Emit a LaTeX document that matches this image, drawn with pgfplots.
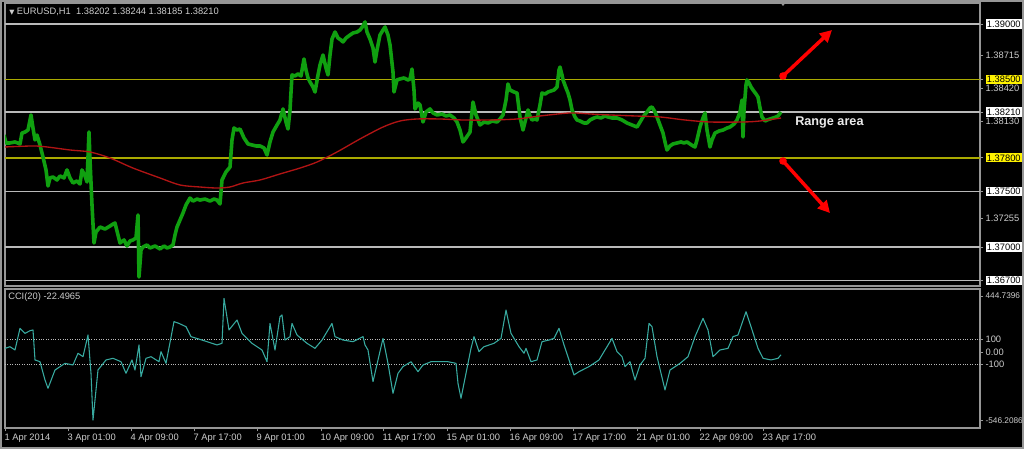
\documentclass[border=0pt]{standalone}
\usepackage{pgfplots}
\pgfplotsset{compat=1.18}
\usepackage{fontspec}
\setmainfont{Liberation Sans}
\newfontfamily\dejavu{DejaVu Sans}
\usetikzlibrary{arrows.meta}

\definecolor{bargreen}{RGB}{16,160,16}
\definecolor{mared}{RGB}{176,20,20}
\definecolor{lvlyellow}{RGB}{170,170,0}
\definecolor{lvlgrey}{RGB}{185,185,185}
\definecolor{framegrey}{RGB}{150,150,150}
\definecolor{lbl}{RGB}{205,205,205}
\definecolor{cci}{RGB}{56,170,160}

\newcommand\sm{\fontsize{7}{8}\selectfont}
\newcommand\smr{\fontsize{6.2}{7}\selectfont}
\newcommand\wbox[1]{{\setlength\fboxsep{1pt}\colorbox{white}{\textcolor{black}{#1}}}}
\newcommand\ybox[1]{{\setlength\fboxsep{1pt}\colorbox{yellow}{\textcolor{black}{#1}}}}

\pgfplotsset{
  mt4/.style={
    scale only axis, anchor=south west,
    width=731.25pt, xmin=5, xmax=980,
    axis line style={draw=framegrey, line width=0.9pt},
    tick style={draw=framegrey, line width=0.6pt},
    tick align=outside, major tick length=2.5pt,
    ytick pos=right, yticklabel pos=right,
    yticklabel style={anchor=west, inner sep=0pt, xshift=1.5pt, font=\sm, text=lbl},
  },
}

% EURUSD H1, price path
\pgfplotstableread{
x p
4 1.38004
6 1.37933
10 1.37933
15 1.37942
20 1.37924
22 1.38022
25 1.38031
28 1.38049
31 1.38184
33 1.38067
35 1.37960
37 1.38004
40 1.37915
43 1.37807
46 1.37691
48 1.37547
50 1.37619
53 1.37628
57 1.37601
60 1.37637
64 1.37619
67 1.37691
70 1.37619
73 1.37574
77 1.37592
80 1.37565
82 1.37691
85 1.37637
87 1.37583
89 1.38031
90 1.37780
92 1.37377
94 1.37036
96 1.37134
100 1.37179
105 1.37161
110 1.37188
113 1.37206
115 1.37215
118 1.37108
120 1.37036
124 1.37063
127 1.37009
130 1.37054
133 1.37063
136 1.37081
138 1.37287
139 1.36731
141 1.36973
143 1.37000
147 1.37018
150 1.36991
155 1.37009
160 1.36982
164 1.37009
167 1.36991
170 1.37000
173 1.37018
175 1.37108
177 1.37179
180 1.37242
183 1.37305
186 1.37377
190 1.37439
193 1.37412
197 1.37430
200 1.37421
205 1.37430
210 1.37412
214 1.37430
217 1.37421
220 1.37386
222 1.37601
226 1.37673
230 1.37717
232 1.37960
234 1.38067
237 1.38049
240 1.38058
244 1.37978
248 1.37924
252 1.37915
256 1.37906
260 1.37906
264 1.37888
267 1.37825
270 1.37942
273 1.38031
277 1.38094
280 1.38139
283 1.38238
286 1.38121
288 1.38058
290 1.38229
292 1.38543
295 1.38534
298 1.38552
301 1.38534
304 1.38686
306 1.38587
308 1.38516
310 1.38480
313 1.38435
315 1.38390
318 1.38543
320 1.38632
323 1.38722
326 1.38605
328 1.38543
330 1.38722
332 1.38865
335 1.38928
338 1.38874
341 1.38856
343 1.38839
346 1.38874
350 1.38901
353 1.38919
357 1.38928
360 1.38946
363 1.38982
365 1.39018
367 1.38928
370 1.38865
373 1.38785
375 1.38659
377 1.38767
380 1.38901
383 1.38946
385 1.38973
388 1.38901
390 1.38812
393 1.38569
394 1.38390
397 1.38498
400 1.38507
404 1.38516
408 1.38498
410 1.38507
412 1.38596
414 1.38408
415 1.38238
418 1.38291
420 1.38274
423 1.38121
426 1.38211
430 1.38238
433 1.38202
437 1.38184
442 1.38193
446 1.38175
450 1.38184
454 1.38157
457 1.38121
460 1.38049
463 1.37942
466 1.37978
470 1.38031
473 1.38300
476 1.38184
480 1.38094
484 1.38121
488 1.38112
492 1.38130
497 1.38121
500 1.38148
503 1.38184
506 1.38318
508 1.38462
510 1.38408
514 1.38390
517 1.38381
520 1.38166
523 1.38049
526 1.38157
528 1.38229
530 1.38175
532 1.38139
535 1.38148
537 1.38139
540 1.38274
542 1.38381
545 1.38372
548 1.38390
551 1.38399
554 1.38408
557 1.38435
559 1.38587
560 1.38614
562 1.38543
563 1.38498
566 1.38426
568 1.38381
570 1.38318
572 1.38229
575 1.38166
577 1.38139
580 1.38130
584 1.38112
587 1.38112
590 1.38139
594 1.38157
597 1.38166
601 1.38157
605 1.38175
608 1.38166
612 1.38157
617 1.38157
622 1.38139
627 1.38112
632 1.38094
637 1.38076
640 1.38121
643 1.38166
647 1.38211
650 1.38247
652 1.38256
655 1.38211
657 1.38166
660 1.38094
663 1.38022
665 1.37942
667 1.37870
670 1.37906
673 1.37924
677 1.37933
681 1.37942
684 1.37933
687 1.37942
690 1.37924
693 1.37906
695 1.37897
697 1.37960
700 1.38076
703 1.38157
705 1.38202
707 1.38049
710 1.37897
712 1.37960
715 1.38022
719 1.38040
723 1.38049
727 1.38067
730 1.38076
734 1.38103
737 1.38139
740 1.38211
742 1.38318
743 1.37987
744 1.38229
746 1.38453
747 1.38498
749 1.38471
751 1.38435
753 1.38408
756 1.38372
758 1.38345
760 1.38247
762 1.38166
765 1.38130
767 1.38139
770 1.38148
773 1.38157
776 1.38166
778 1.38175
781 1.38210
}\price

\pgfplotstableread{
x p
5 1.37897
33 1.37906
47 1.37897
70 1.37870
90 1.37852
110 1.37798
133 1.37708
160 1.37619
180 1.37556
200 1.37538
217 1.37529
230 1.37538
243 1.37574
260 1.37601
280 1.37655
300 1.37708
317 1.37762
337 1.37852
360 1.37969
383 1.38076
400 1.38130
417 1.38148
440 1.38148
463 1.38139
490 1.38139
517 1.38148
540 1.38175
570 1.38202
590 1.38193
610 1.38184
635 1.38175
660 1.38166
685 1.38139
710 1.38121
743 1.38121
760 1.38130
781 1.38157
}\ma

\pgfplotstableread{
x v
5 29
10 42
15 16
20 188
25 148
30 169
33 175
35 -63
40 -77
45 -222
48 -288
55 -143
65 -90
73 -103
78 -10
83 -37
88 135
91 -169
93 -540
98 -143
106 -63
113 -50
121 -77
126 -169
132 -63
135 -143
139 56
141 -196
146 -50
151 -37
159 -77
161 3
166 -90
174 241
179 227
186 201
191 122
202 95
212 69
217 56
222 69
224 426
229 175
237 254
242 148
252 69
262 16
267 -77
270 227
275 16
280 280
282 294
285 95
290 122
292 227
297 135
307 69
315 29
322 95
332 227
335 122
343 95
353 82
363 122
365 56
368 16
373 -235
378 -63
383 108
388 -90
393 -328
398 -169
403 -116
411 -77
418 -156
423 -103
431 -77
438 -77
448 -77
456 -90
458 -249
461 -367
466 -169
471 29
474 122
479 3
484 42
494 69
501 108
506 333
511 148
519 42
524 -10
526 29
531 -77
537 -63
542 82
549 95
554 108
559 188
564 56
569 -63
574 -182
579 -156
589 -116
599 -63
607 42
612 108
617 3
622 -37
625 -116
630 -77
635 -222
640 -103
645 -50
649 227
652 201
657 -37
665 -301
670 -143
680 -90
688 -37
695 122
703 267
708 175
713 -37
720 16
728 29
733 122
738 135
746 320
751 201
758 29
763 -50
771 -63
778 -50
781 -22
}\cciv

\begin{document}
\begin{tikzpicture}
\fill[black] (0,0) rectangle (768pt,336.75pt);
\path[use as bounding box] (0,0) rectangle (768pt,336.75pt);

% price window
\begin{axis}[mt4, at={(3.75pt,122.25pt)}, height=212.25pt,
  ymin=1.366502, ymax=1.391883,
  xtick=\empty,
  ytick={1.38715,1.3842,1.3813,1.37255,1.39,1.385,1.3821,1.378,1.375,1.37,1.367},
  yticklabels={1.38715,1.38420,1.38130,1.37255,\wbox{1.39000},\ybox{1.38500},\wbox{1.38210},\ybox{1.37800},\wbox{1.37500},\wbox{1.37000},\wbox{1.36700}},
]
\addplot[lvlgrey, line width=1.1pt] coordinates {(5,1.39) (980,1.39)};
\addplot[lvlgrey, line width=1.1pt] coordinates {(5,1.3821) (980,1.3821)};
\addplot[lvlgrey, line width=1.1pt] coordinates {(5,1.375) (980,1.375)};
\addplot[lvlgrey, line width=1.1pt] coordinates {(5,1.37) (980,1.37)};
\addplot[lvlgrey, line width=1.1pt] coordinates {(5,1.367) (980,1.367)};
\addplot[lvlyellow, line width=1.1pt] coordinates {(5,1.385) (980,1.385)};
\addplot[lvlyellow, line width=1.1pt] coordinates {(5,1.378) (980,1.378)};
\addplot[bargreen, line width=2.7pt, line join=round] table[x=x, y=p] {\price};
\addplot[mared, line width=1pt, smooth] table[x=x, y=p] {\ma};
\end{axis}

% CCI window
\begin{axis}[mt4, at={(3.75pt,15.75pt)}, height=104.25pt,
  ymin=-603, ymax=500,
  xtick={5,68,131,194,257,321,383,447,510,573,637,700,763},
  xticklabels={1 Apr 2014,3 Apr 01:00,4 Apr 09:00,7 Apr 17:00,9 Apr 01:00,10 Apr 09:00,11 Apr 17:00,15 Apr 01:00,16 Apr 09:00,17 Apr 17:00,21 Apr 01:00,22 Apr 09:00,23 Apr 17:00},
  xtick pos=bottom,
  xticklabel style={anchor=north west, inner sep=0pt, yshift=-1.5pt, xshift=-0.5pt, font=\sm, text=lbl},
  ytick={444.7396,100,0,-100,-546.2086},
  yticklabels={{\smr 444.7396},100,0.00,-100,{\smr -546.2086}},
]
\addplot[lvlgrey, densely dotted, line width=0.8pt] coordinates {(5,100) (980,100)};
\addplot[lvlgrey, densely dotted, line width=0.8pt] coordinates {(5,-100) (980,-100)};
\addplot[cci, line width=0.8pt, line join=round] table[x=x, y=v] {\cciv};
\end{axis}

% annotations in pixel units of the screenshot
\begin{scope}[x=0.75pt, y=-0.75pt, shift={(0pt,336.75pt)}]
\draw[framegrey, line width=1.5pt] (1,1) rectangle (1023,448);
\fill[framegrey] (779,1) -- (787,1) -- (783,6) -- cycle;
\node[anchor=west, inner sep=0pt, text=lbl, font=\sm] at (9,12)
  {{\dejavu\fontsize{5}{6}\selectfont ▼}\ EURUSD,H1\ \ 1.38202 1.38244 1.38185 1.38210};
\node[anchor=west, inner sep=0pt, text=lbl, font=\sm] at (8,297) {CCI(20) -22.4965};
\node[anchor=west, inner sep=0pt, text=white!92!black, font=\fontsize{9.5}{11}\selectfont\bfseries] at (795,122) {Range area};
\draw[red, line width=2.6pt, -{Triangle[length=9pt,width=9pt]}] (783,76) -- (832,30);
\fill[red] (783,76) circle (3.8);
\draw[red, line width=2.6pt, -{Triangle[length=9pt,width=9pt]}] (783,161) -- (830,213);
\fill[red] (783,161) circle (3.8);
\end{scope}
\end{tikzpicture}
\end{document}
